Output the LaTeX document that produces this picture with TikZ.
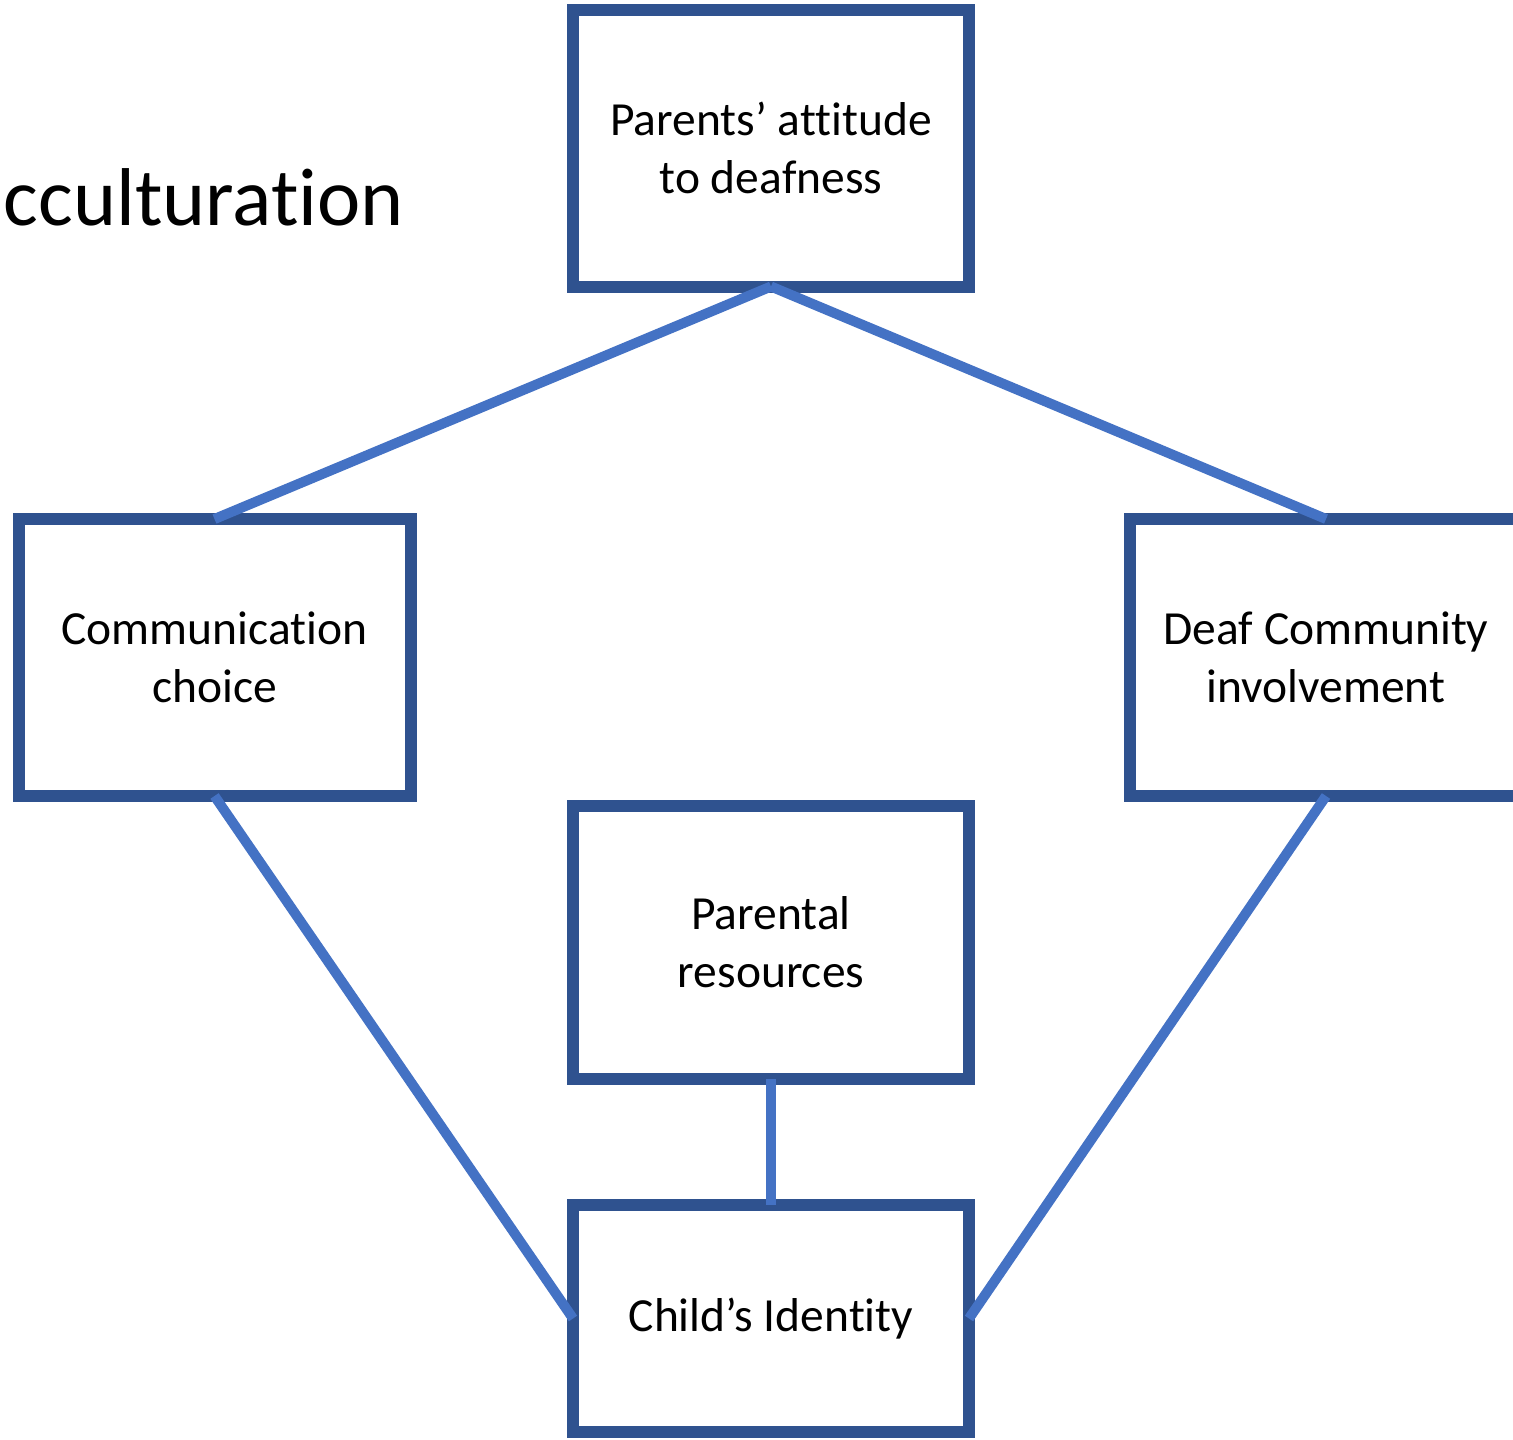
\documentclass[tikz,border=0pt]{standalone}
\usepackage{fontspec}
\setmainfont{Carlito}[Ligatures={NoCommon}]
\definecolor{boxblue}{HTML}{2F528F}
\definecolor{lineblue}{HTML}{4472C4}
\begin{document}
\begin{tikzpicture}[x=1pt,y=-1pt,
  box/.style={draw=boxblue,line width=12pt,outer sep=0pt,minimum width=396pt,minimum height=277pt,inner sep=0pt,align=center,font=\fontsize{47.5}{58}\selectfont},
  link/.style={draw=lineblue,line width=10pt}]
\useasboundingbox (0,0) rectangle (1513,1440);
\node[anchor=base east,inner sep=0pt,font=\fontsize{82}{98}\selectfont] (title) at (404,225) {cculturation};
\node[box] (top) at (771,148) {Parents’ attitude\\to deafness};
\node[box,minimum width=392pt] (left) at (214.5,657.5) {Communication\\choice};
\node[box,minimum width=392pt] (right) at (1326,657.5) {Deaf Community\\involvement};
\node[box,minimum height=273pt] (mid) at (771,942.5) {Parental\\resources};
\node[box,minimum height=227pt] (bot) at (771,1318.5) {Child’s Identity};
\draw[link] (top.south) -- (left.north);
\draw[link] (top.south) -- (right.north);
\draw[link] (left.south) -- (bot.west);
\draw[link] (right.south) -- (bot.east);
\draw[link] (mid.south) -- (bot.north);
\end{tikzpicture}
\end{document}
